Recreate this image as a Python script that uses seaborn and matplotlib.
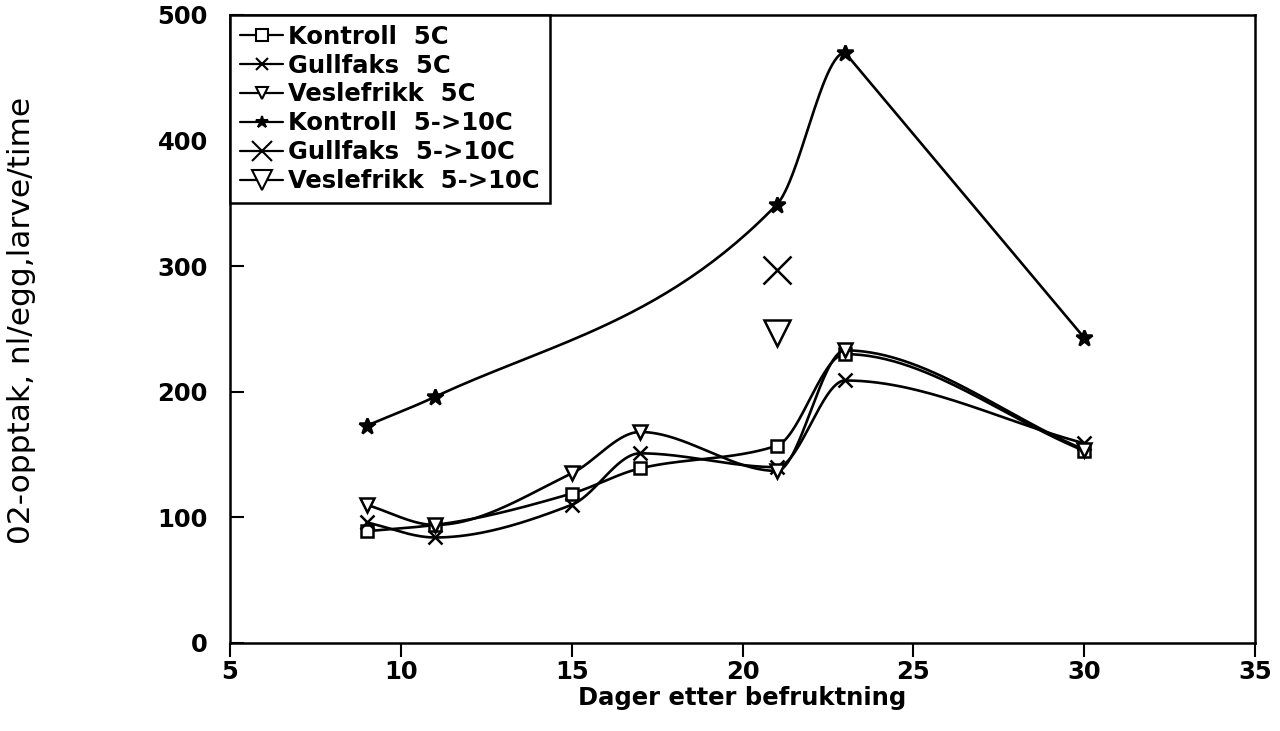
import numpy as np
import pandas as pd
import matplotlib
matplotlib.use("Agg")
import matplotlib.pyplot as plt
from matplotlib.lines import Line2D
import seaborn as sns

# ---- data ----
days = [9, 11, 15, 17, 21, 23, 30]
kontroll_5c = [89, 94, 119, 139, 157, 230, 153]
gullfaks_5c = [96, 84, 110, 151, 140, 209, 159]
veslefrikk_5c = [110, 94, 135, 168, 137, 233, 154]
days_k10 = [9, 11, 21, 23, 30]
kontroll_5_10c = [173, 196, 349, 470, 243]
days_single = [21]
gullfaks_5_10c = [297]
veslefrikk_5_10c = [247]

labels = ["Kontroll  5C", "Gullfaks  5C", "Veslefrikk  5C",
          "Kontroll  5->10C", "Gullfaks  5->10C", "Veslefrikk  5->10C"]
xticks = [5, 10, 15, 20, 25, 30, 35]
yticks = [0, 100, 200, 300, 400, 500]


def smooth_curve(x, y, straight_last=False, n=60):
    """Monotone cubic (Fritsch-Carlson) drawing path through the points."""
    x = np.asarray(x, float)
    y = np.asarray(y, float)
    h = np.diff(x)
    d = np.diff(y) / h
    m = np.zeros_like(y)
    m[0], m[-1] = d[0], d[-1]
    for i in range(1, len(y) - 1):
        if d[i - 1] * d[i] <= 0:
            m[i] = 0.0
        else:
            w1 = 2 * h[i] + h[i - 1]
            w2 = h[i] + 2 * h[i - 1]
            m[i] = (w1 + w2) / (w1 / d[i - 1] + w2 / d[i])
    xs_all, ys_all = [], []
    for i in range(len(x) - 1):
        t = np.linspace(0, 1, n)
        if straight_last and i == len(x) - 2:
            ys = y[i] + (y[i + 1] - y[i]) * t
        else:
            h00 = 2 * t**3 - 3 * t**2 + 1
            h10 = t**3 - 2 * t**2 + t
            h01 = -2 * t**3 + 3 * t**2
            h11 = t**3 - t**2
            ys = h00 * y[i] + h10 * h[i] * m[i] + h01 * y[i + 1] + h11 * h[i] * m[i + 1]
        xs_all.append(x[i] + h[i] * t)
        ys_all.append(ys)
    return np.concatenate(xs_all), np.concatenate(ys_all)


sns.set_style("white")
plt.rcParams["font.family"] = ["DejaVu Sans"]
plt.rcParams["text.color"] = "black"
plt.rcParams["axes.labelcolor"] = "black"
plt.rcParams["xtick.color"] = "black"
plt.rcParams["ytick.color"] = "black"
plt.rcParams["xtick.direction"] = "out"
plt.rcParams["ytick.direction"] = "in"

fig = plt.figure(figsize=(12.8, 7.31), dpi=100)
ax = fig.add_axes([0.1797, 0.1204, 0.8008, 0.8591])

# (x, y, marker, size, draw line, straight last segment)
series = [
    (days, kontroll_5c, "s", 9, True, False),
    (days, gullfaks_5c, "x", 10, True, False),
    (days, veslefrikk_5c, "v", 10, True, False),
    (days_k10, kontroll_5_10c, "*", 12, True, True),
    (days_single, gullfaks_5_10c, "x", 20, False, False),
    (days_single, veslefrikk_5_10c, "v", 19, False, False),
]

for (xv, yv, mk, ms, line, sl), lab in zip(series, labels):
    if line:
        xs, ys = smooth_curve(xv, yv, straight_last=sl)
        sns.lineplot(x=xs, y=ys, ax=ax, color="black", linewidth=1.9,
                     sort=False, estimator=None, legend=False)
    df = pd.DataFrame({"x": xv, "y": yv})
    filled = mk == "*"
    sns.lineplot(data=df, x="x", y="y", ax=ax, linestyle="", marker=mk,
                 markersize=ms, markerfacecolor="black" if filled else "white",
                 markeredgecolor="black", markeredgewidth=1.8, color="black",
                 estimator=None, legend=False)

ax.set_xlim(5, 35)
ax.set_ylim(0, 500)
ax.set_xticks(xticks)
ax.set_yticks(yticks)
ax.set_xticklabels([str(t) for t in xticks], fontsize=17.5, fontweight="bold")
ax.set_yticklabels([str(t) for t in yticks], fontsize=17.5, fontweight="bold")
ax.tick_params(axis="x", bottom=True, length=10, width=1.5, pad=2)
ax.tick_params(axis="y", left=True, length=10, width=1.5, pad=16)
for s in ax.spines.values():
    s.set_visible(True)
    s.set_color("black")
    s.set_linewidth(1.8)

ax.set_xlabel("Dager etter befruktning", fontsize=17.5, fontweight="semibold", labelpad=2)
ax.set_ylabel("02-opptak, nl/egg,larve/time", fontsize=22.5)
ax.yaxis.set_label_coords(-0.189, 0.514)

handles = []
for (xv, yv, mk, ms, line, sl), lab in zip(series, labels):
    filled = mk == "*"
    handles.append(Line2D([0], [0], color="black", linewidth=1.6, marker=mk,
                          markersize=9 if ms < 15 else 15,
                          markerfacecolor="black" if filled else "white",
                          markeredgecolor="black", markeredgewidth=1.5))
leg = ax.legend(handles, labels, loc="upper left", bbox_to_anchor=(0, 1),
                prop={"weight": "bold", "size": 17.5},
                frameon=True, fancybox=False, edgecolor="black",
                handlelength=1.8, handletextpad=0.2, labelspacing=0.2,
                borderpad=0.4, borderaxespad=0)
leg.get_frame().set_linewidth(1.8)
leg.get_frame().set_alpha(1)
for t in leg.get_texts():
    t.set_color("black")

fig.savefig("out.png", dpi=100, facecolor="white")
